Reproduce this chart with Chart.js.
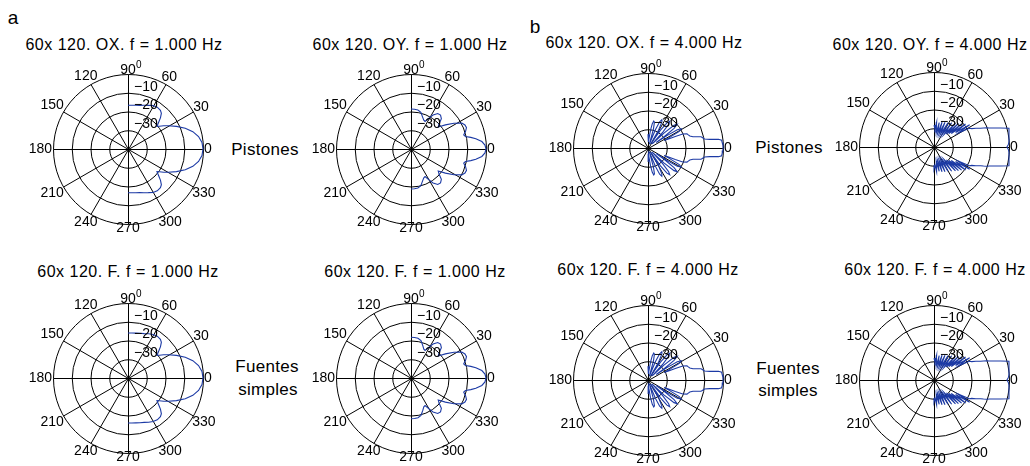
<!DOCTYPE html>
<html>
<head>
<meta charset="utf-8">
<script src="https://cdn.jsdelivr.net/npm/chart.js@4.4.0/dist/chart.umd.min.js"></script>
<style>
  body { margin: 0; width: 1030px; height: 466px; background: #fff; position: relative; overflow: hidden;
         font-family: "Liberation Sans", Arial, Helvetica, sans-serif; color: #000; }
  canvas { position: absolute; }
  .t { position: absolute; white-space: nowrap; transform: translate(-50%, -50%); line-height: 1; }
  .title { font-size: 16px; letter-spacing: 0.5px; }
  .side { font-size: 17px; letter-spacing: 0.3px; }
  .tag { font-size: 19px; }
</style>
</head>
<body>
<div class="t tag" style="left:13px;top:17px">a</div>
<div class="t tag" style="left:535px;top:26px">b</div>

<div class="t title" style="left:124px;top:45px">60x 120. OX. f = 1.000 Hz</div>
<div class="t title" style="left:410px;top:45px">60x 120. OY. f = 1.000 Hz</div>
<div class="t title" style="left:644px;top:43px">60x 120. OX. f = 4.000 Hz</div>
<div class="t title" style="left:930px;top:45px">60x 120. OY. f = 4.000 Hz</div>
<div class="t title" style="left:128px;top:272px">60x 120. F. f = 1.000 Hz</div>
<div class="t title" style="left:415px;top:272px">60x 120. F. f = 1.000 Hz</div>
<div class="t title" style="left:648px;top:270px">60x 120. F. f = 4.000 Hz</div>
<div class="t title" style="left:935px;top:270px">60x 120. F. f = 4.000 Hz</div>

<div class="t side" style="left:265px;top:149px">Pistones</div>
<div class="t side" style="left:789px;top:147px">Pistones</div>
<div class="t side" style="left:267px;top:366px">Fuentes</div>
<div class="t side" style="left:268px;top:389px">simples</div>
<div class="t side" style="left:788px;top:368px">Fuentes</div>
<div class="t side" style="left:788px;top:390px">simples</div>

<canvas id="p1" width="240" height="200"></canvas>
<canvas id="p2" width="240" height="200"></canvas>
<canvas id="p3" width="240" height="200"></canvas>
<canvas id="p4" width="240" height="200"></canvas>
<canvas id="p5" width="240" height="200"></canvas>
<canvas id="p6" width="240" height="200"></canvas>
<canvas id="p7" width="240" height="200"></canvas>
<canvas id="p8" width="240" height="200"></canvas>

<script>
// Polar directivity patterns (dB), 60x120 array
// angles in degrees from 0 to 90; the lower half of each plot mirrors the upper half

const ringLevels = [-30, -20, -10, 0];
const tickLabels = ['\u221230', '\u221220', '\u221210'];
const spokeAngles = [0, 30, 60, 90, 120, 150];
const angleLabels = [0, 30, 60, 90, 120, 150, 180, 210, 240, 270, 300, 330];
const floorDb = -40;

// 1 kHz, OX
const anglesOX1k = [0, 5, 10, 15, 20, 25, 30, 33, 36, 38, 41, 44, 47, 50, 55, 60, 65, 70, 75, 80, 85, 90];
const pistonesOX1k = [0, -0.4, -1.8, -4.2, -7.5, -11.5, -15.2, -17.3, -19.3, -20.4, -18.4, -15.9, -13.9, -13.1, -12.8, -13.2, -14.3, -15.2, -15.9, -16.3, -16.6, -16.7];
const fuentesOX1k = [0, -0.4, -1.8, -4.2, -7.5, -11.5, -15.2, -17.3, -19.3, -20.4, -18.4, -15.9, -13.9, -13.1, -12.8, -13.2, -14.0, -14.8, -15.3, -15.7, -15.9, -16.0];

// 1 kHz, OY
const anglesOY1k = [0, 3, 6, 9, 11, 13, 15, 18, 21, 24, 27, 31, 35, 39, 42, 45, 49, 53, 57, 60, 63, 66, 70, 75, 80, 85, 90];
const pistonesOY1k = [0, -0.5, -2, -5, -7.5, -10.2, -10.9, -9.4, -8.3, -8.5, -9.6, -13.3, -17.6, -21.3, -19.8, -17.1, -16, -16.3, -18.4, -21.1, -23.5, -23.2, -21.9, -19.7, -18.9, -18.7, -18.7];
const fuentesOY1k = [0, -0.5, -2, -5, -7.5, -10.2, -10.9, -9.4, -8.3, -8.5, -9.6, -13.3, -17.6, -21.3, -19.8, -17.1, -16, -16.3, -18.4, -21.1, -23.5, -23.2, -21.6, -19.4, -18.5, -18.3, -18.3];

// 4 kHz, OX
const anglesOX4k = [0, 2, 4, 6, 7, 8, 9, 10, 11, 12, 13, 14, 16, 18, 20, 22, 23, 24, 25, 26, 28, 30, 32, 33, 34, 35, 37, 39, 41, 43, 45, 47, 49, 51, 53, 55, 57, 59, 62, 64, 66, 68, 71, 74, 76, 78, 80, 82, 86, 88, 90];
const pistonesOX4k = [0, 0, -0.3, -0.5, -2.1, -6.8, -9.5, -10, -10.5, -11.1, -13.2, -15.3, -16.8, -17.4, -17.9, -20, -24.2, -28.4, -30.5, -27.4,
  -21.1, -19.5, -21.6, -27.4, -34.7, -29.5, -22.6, -20, -21.6, -28.4, -36.8, -28.4, -23.2, -21.6, -23.2, -28.4, -37.4, -29.5, -24.2, -23.2,
  -24.7, -29.5, -37.9, -29.5, -25.8, -25.3, -26.8, -30.5, -36.8, -34.7, -32.6];
const fuentesOX4k = [0, 0, -0.3, -0.5, -2.1, -6.8, -9.5, -10, -10.5, -11.1, -13.2, -15.3, -16.8, -17.4, -17.9, -20, -24.2, -28.4, -30.5, -27.4,
  -21.1, -19.5, -21.6, -27.4, -34.7, -29.5, -22.6, -20, -21.6, -28.4, -36.8, -28.4, -23.2, -21.6, -23.2, -28.4, -37.4, -29.5, -24.2, -23.2,
  -24.7, -29.5, -37.9, -29.5, -25.8, -25.3, -26.8, -30.5, -36.8, -34.7, -32.6];

// 4 kHz, OY
const anglesOY4k = [0, 2, 4, 6, 8, 10, 12, 14, 16, 17, 18, 19, 20, 21, 22, 24, 26, 28, 30, 32, 34, 36, 38, 40, 42, 44, 46, 48, 51, 54, 57, 60, 63, 66, 69, 72, 75, 78, 81, 84, 87, 90];
const pistonesOY4k = [-1.1, -0.3, 0.1, 0.2, 0.4, 0.6, 0.9, 1.2, -3.2, -5.3, -7.2, -8.8, -10.1, -11.7, -13.3,
  -15.5, -17.6, -18.7, -25.1, -17.6, -26.1, -19.2, -28.3, -20.8, -29.3, -21.9, -30.4, -22.9,
  -31.5, -24, -32, -25.1, -32.5, -25.6, -32.5, -26.1, -32.5, -26.7, -32.5, -26.7, -30.4, -28.3];
const fuentesOY4k = [-1.1, -0.3, 0.1, 0.2, 0.4, 0.6, 0.9, 1.2, -3.2, -5.3, -7.2, -8.8, -10.1, -11.7, -13.3,
  -15.5, -17.6, -18.7, -25.1, -17.6, -26.1, -19.2, -28.3, -20.8, -29.3, -21.9, -30.4, -22.9,
  -31.5, -24, -32, -25.1, -32.5, -25.6, -32.5, -26.1, -32.5, -26.7, -32.5, -26.7, -30.4, -28.3];

const panels = [
  { id: 'p1', cx: 128, cy: 149, angles: anglesOX1k, levels: pistonesOX1k },
  { id: 'p2', cx: 411, cy: 149, angles: anglesOY1k, levels: pistonesOY1k },
  { id: 'p3', cx: 648, cy: 148, angles: anglesOX4k, levels: pistonesOX4k },
  { id: 'p4', cx: 934, cy: 147, angles: anglesOY4k, levels: pistonesOY4k },
  { id: 'p5', cx: 128, cy: 378, angles: anglesOX1k, levels: fuentesOX1k },
  { id: 'p6', cx: 411, cy: 378, angles: anglesOY1k, levels: fuentesOY1k },
  { id: 'p7', cx: 648, cy: 380, angles: anglesOX4k, levels: fuentesOX4k },
  { id: 'p8', cx: 934, cy: 380, angles: anglesOY4k, levels: fuentesOY4k }
];

const CW = 240, CH = 200, R = 75;

// dB at an angle -> x/y in "level above floor" units
function polarPoint(deg, db) {
  const r = Math.max(0, db - floorDb);
  const t = deg * Math.PI / 180;
  return { x: r * Math.cos(t), y: r * Math.sin(t) };
}

// walk from 90 deg down to 0, then on to -90 deg
function buildPoints(angles, levels) {
  const pts = [];
  for (let i = angles.length - 1; i >= 0; i--) pts.push(polarPoint(angles[i], levels[i]));
  for (let i = 1; i < angles.length; i++) pts.push(polarPoint(-angles[i], levels[i]));
  return pts;
}

// draws rings, spokes and labels of a polar plot
const polarGrid = {
  id: 'polarGrid',
  beforeDatasetsDraw(chart) {
    const { ctx, scales: { x, y } } = chart;
    const cx = x.getPixelForValue(0), cy = y.getPixelForValue(0);
    const outer = x.getPixelForValue(-floorDb) - cx;
    ctx.save();
    ctx.translate(0.5, 0.5);
    ctx.strokeStyle = '#000';
    ctx.lineWidth = 1;
    ringLevels.forEach(db => {
      const rr = x.getPixelForValue(db - floorDb) - cx;
      ctx.beginPath();
      ctx.arc(cx, cy, rr, 0, Math.PI * 2);
      ctx.stroke();
    });
    spokeAngles.forEach(a => {
      const t = a * Math.PI / 180;
      ctx.beginPath();
      ctx.moveTo(cx - outer * Math.cos(t), cy + outer * Math.sin(t));
      ctx.lineTo(cx + outer * Math.cos(t), cy - outer * Math.sin(t));
      ctx.stroke();
    });
    ctx.restore();
  },
  afterDatasetsDraw(chart) {
    const { ctx, scales: { x, y } } = chart;
    const cx = x.getPixelForValue(0), cy = y.getPixelForValue(0);
    const outer = x.getPixelForValue(-floorDb) - cx;
    ctx.save();
    ctx.fillStyle = '#000';
    ctx.font = '14px "Liberation Sans", Arial, sans-serif';
    ctx.textAlign = 'center';
    ctx.textBaseline = 'middle';
    angleLabels.forEach(a => {
      const t = a * Math.PI / 180;
      const txt = String(a);
      const w = ctx.measureText(txt).width;
      const d = outer + 1 + Math.abs(Math.cos(t)) * w / 2 + Math.abs(Math.sin(t)) * 3;
      const lx = cx + d * Math.cos(t), ly = cy - d * Math.sin(t);
      ctx.fillText(txt, lx, ly);
      if (a === 90) {
        ctx.font = '10px "Liberation Sans", Arial, sans-serif';
        ctx.fillText('0', lx + w / 2 + 3, ly - 5);
        ctx.font = '14px "Liberation Sans", Arial, sans-serif';
      }
    });
    ctx.textAlign = 'left';
    ringLevels.slice(0, 3).forEach((db, i) => {
      const rr = x.getPixelForValue(db - floorDb) - cx;
      ctx.fillText(tickLabels[i], cx + 6, cy - rr - 6);
    });
    ctx.restore();
  }
};

panels.forEach(p => {
  const canvas = document.getElementById(p.id);
  canvas.style.left = (p.cx - CW / 2) + 'px';
  canvas.style.top = (p.cy - CH / 2) + 'px';
  const padX = CW / 2 - R, padY = CH / 2 - R;
  new Chart(canvas, {
    type: 'scatter',
    data: {
      datasets: [{
        data: buildPoints(p.angles, p.levels),
        showLine: true,
        borderColor: 'rgb(28, 58, 165)',
        borderWidth: 1.1,
        pointRadius: 0,
        tension: 0,
        clip: false
      }]
    },
    options: {
      responsive: false,
      animation: false,
      layout: { padding: { left: padX, right: padX, top: padY, bottom: padY } },
      scales: {
        x: { type: 'linear', display: false, min: floorDb, max: -floorDb },
        y: { type: 'linear', display: false, min: floorDb, max: -floorDb }
      },
      plugins: { legend: { display: false }, tooltip: { enabled: false } }
    },
    plugins: [polarGrid]
  });
});
</script>
</body>
</html>
